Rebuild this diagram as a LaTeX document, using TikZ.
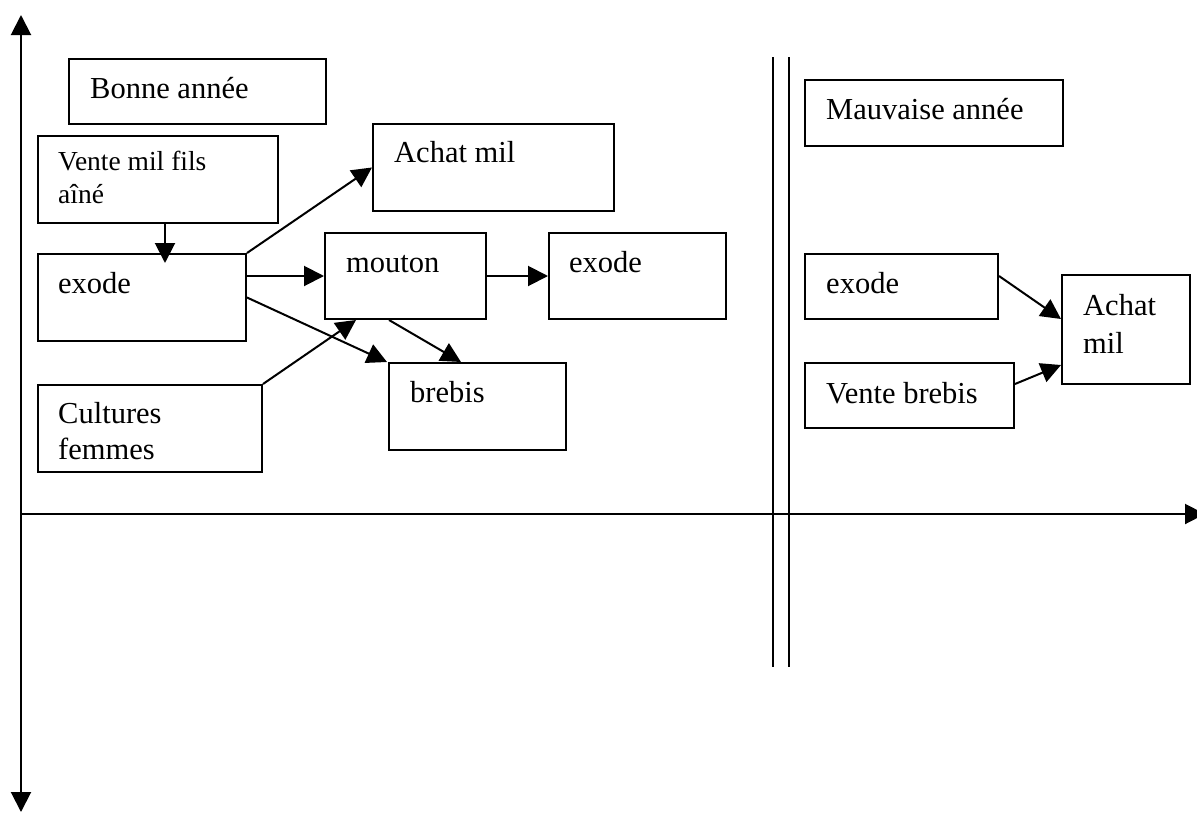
\documentclass[tikz,border=0pt]{standalone}
\usepackage{fontspec}
\setmainfont{Liberation Serif}
\usetikzlibrary{arrows.meta}
\begin{document}
\begin{tikzpicture}[x=1pt,y=-1pt,
  box/.style={draw, line width=2pt, inner sep=0pt, anchor=north west},
  lbl/.style={anchor=base west, inner sep=0pt, font=\fontsize{30.5}{36}\selectfont},
  slbl/.style={anchor=base west, inner sep=0pt, font=\fontsize{27.5}{33}\selectfont},
  arr/.style={line width=2pt, -{Triangle[length=20pt,width=20pt]}},
  axis/.style={line width=2pt, {Triangle[length=20pt,width=20pt]}-{Triangle[length=20pt,width=20pt]}}]
\useasboundingbox (0,0) rectangle (1197,814);
% axes
\draw[axis] (21,15) -- (21,812);
\draw[line width=2pt, -{Triangle[length=20pt,width=20pt]}] (21,514) -- (1205,514);
\draw[line width=2pt] (773,57) -- (773,667);
\draw[line width=2pt] (789,57) -- (789,667);
% boxes
\node[box, minimum width=257pt, minimum height=65pt] (bonne) at (68,58) {};
\node[lbl] (tbonne) at (90,98) {Bonne année};
\node[box, minimum width=240pt, minimum height=87pt] (venteM) at (37,135) {};
\node[slbl] (tvm1) at (58,170) {Vente mil fils};
\node[slbl] (tvm2) at (58,203) {aîné};
\node[box, minimum width=208pt, minimum height=87pt] (exodeL) at (37,253) {};
\node[lbl] (texL) at (58,293) {exode};
\node[box, minimum width=224pt, minimum height=87pt] (cult) at (37,384) {};
\node[lbl] (tc1) at (58,423) {Cultures};
\node[lbl] (tc2) at (58,459) {femmes};
\node[box, minimum width=241pt, minimum height=87pt] (achatL) at (372,123) {};
\node[lbl] (tachL) at (394,162) {Achat mil};
\node[box, minimum width=161pt, minimum height=86pt] (mouton) at (324,232) {};
\node[lbl] (tmou) at (346,272) {mouton};
\node[box, minimum width=177pt, minimum height=86pt] (exodeM) at (548,232) {};
\node[lbl] (texM) at (569,272) {exode};
\node[box, minimum width=177pt, minimum height=87pt] (brebis) at (388,362) {};
\node[lbl] (tbre) at (410,402) {brebis};
\node[box, minimum width=258pt, minimum height=66pt] (mauv) at (804,79) {};
\node[lbl] (tmauv) at (826,119) {Mauvaise année};
\node[box, minimum width=193pt, minimum height=65pt] (exodeR) at (804,253) {};
\node[lbl] (texR) at (826,293) {exode};
\node[box, minimum width=128pt, minimum height=109pt] (achatR) at (1061,274) {};
\node[lbl] (tachR1) at (1083,315) {Achat};
\node[lbl] (tachR2) at (1083,353) {mil};
\node[box, minimum width=209pt, minimum height=65pt] (venteB) at (804,362) {};
\node[lbl] (tvb) at (826,403) {Vente brebis};
% connectors
\draw[arr] ([xshift=7pt]venteM.south) -- ([xshift=23pt,yshift=-10pt]exodeL.north);
\draw[arr] (exodeL.north east) -- (achatL.west);
\draw[arr] (exodeL.east |- mouton.west) -- (mouton.west);
\draw[arr] (exodeL.east) -- ([xshift=-1pt]brebis.north west);
\draw[arr] (cult.north east) -- ([xshift=-49.5pt]mouton.south);
\draw[arr] ([xshift=-16.5pt]mouton.south) -- ([xshift=-16.5pt]brebis.north);
\draw[arr] (mouton.east) -- (exodeM.west);
\draw[arr] ([yshift=10.5pt]exodeR.east) -- ([yshift=10.5pt]achatR.west);
\draw[arr] ([yshift=11.5pt]venteB.east) -- ([yshift=-35.5pt]achatR.west);
\end{tikzpicture}
\end{document}
